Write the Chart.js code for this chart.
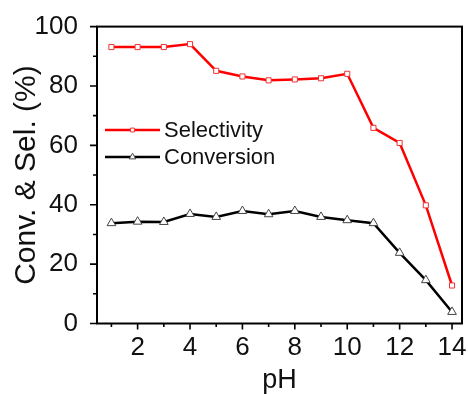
<!DOCTYPE html>
<html>
<head>
<meta charset="utf-8">
<script src="https://cdn.jsdelivr.net/npm/chart.js@4"></script>
<style>
html,body{margin:0;padding:0;background:#fff;}
#wrap{width:468px;height:394px;position:relative;}
</style>
</head>
<body>
<div id="wrap"><canvas id="c" width="468" height="394"></canvas></div>
<script>
const pH = [1, 2, 3, 4, 5, 6, 7, 8, 9, 10, 11, 12, 13, 14];
const selectivity = [93.1, 93.1, 93.1, 94.1, 85.1, 83.2, 81.9, 82.2, 82.6, 84.1, 65.9, 60.8, 39.8, 12.8];
const conversion = [33.8, 34.3, 34.2, 36.9, 35.9, 37.9, 36.8, 37.9, 35.9, 34.8, 33.8, 23.8, 14.6, 3.9];
const xMajorTicks = [2, 4, 6, 8, 10, 12, 14];
const xMinorTicks = [1, 3, 5, 7, 9, 11, 13];
const yMajorTicks = [0, 20, 40, 60, 80, 100];
const yMinorTicks = [10, 30, 50, 70, 90];
const seriesNames = ['Selectivity', 'Conversion'];

const FONT = "'Liberation Sans', Arial, sans-serif";

const framePlugin = {
  id: 'frame',
  afterDraw(chart) {
    const ctx = chart.ctx, a = chart.chartArea;
    const xs = chart.scales.x, ys = chart.scales.y;
    ctx.save();
    ctx.strokeStyle = '#000';
    ctx.lineWidth = 2;
    ctx.strokeRect(a.left, a.top, a.right - a.left, a.bottom - a.top);
    ctx.lineWidth = 1.6;
    ctx.beginPath();
    xMajorTicks.forEach(v => { const p = xs.getPixelForValue(v); ctx.moveTo(p, a.bottom); ctx.lineTo(p, a.bottom + 6); });
    xMinorTicks.forEach(v => { const p = xs.getPixelForValue(v); ctx.moveTo(p, a.bottom); ctx.lineTo(p, a.bottom + 3.5); });
    yMajorTicks.forEach(v => { const p = ys.getPixelForValue(v); ctx.moveTo(a.left, p); ctx.lineTo(a.left - 7, p); });
    yMinorTicks.forEach(v => { const p = ys.getPixelForValue(v); ctx.moveTo(a.left, p); ctx.lineTo(a.left - 4, p); });
    ctx.stroke();

    // legend
    chart.data.datasets.forEach((d, i) => {
      const y = 130 + i * 27;
      ctx.strokeStyle = d.borderColor;
      ctx.lineWidth = d.borderWidth;
      ctx.beginPath();
      ctx.moveTo(105, y);
      ctx.lineTo(160, y);
      ctx.stroke();
      ctx.save();
      ctx.fillStyle = '#fff';
      ctx.strokeStyle = d.pointBorderColor;
      ctx.lineWidth = d.pointBorderWidth;
      Chart.helpers.drawPoint(ctx, { pointStyle: d.pointStyle, radius: d.pointRadius * 0.75, borderWidth: d.pointBorderWidth, rotation: 0 }, 132.5, y);
      ctx.restore();
      ctx.fillStyle = '#111';
      ctx.font = '22px ' + FONT;
      ctx.textBaseline = 'middle';
      ctx.textAlign = 'left';
      ctx.fillText(d.label, 164, y + 1);
    });
    ctx.restore();
  }
};

new Chart(document.getElementById('c'), {
  type: 'line',
  data: {
    datasets: [
      {
        label: seriesNames[0],
        data: pH.map((x, i) => ({ x: x, y: selectivity[i] })),
        borderColor: '#ff0000',
        borderWidth: 2.5,
        pointStyle: 'rect',
        pointRadius: 3.6,
        pointBackgroundColor: '#ffffff',
        pointBorderColor: '#ee3333',
        pointBorderWidth: 1,
        tension: 0
      },
      {
        label: seriesNames[1],
        data: pH.map((x, i) => ({ x: x, y: conversion[i] })),
        borderColor: '#000000',
        borderWidth: 2.5,
        pointStyle: 'triangle',
        pointRadius: 5,
        pointBackgroundColor: '#ffffff',
        pointBorderColor: '#444444',
        pointBorderWidth: 1,
        tension: 0
      }
    ]
  },
  options: {
    responsive: false,
    animation: false,
    devicePixelRatio: 1,
    layout: { padding: { top: 25, right: 5, left: 0, bottom: 0 } },
    plugins: { legend: { display: false }, tooltip: { enabled: false } },
    scales: {
      x: {
        type: 'linear',
        min: 0.45,
        max: 14.38,
        afterBuildTicks: s => { s.ticks = xMajorTicks.map(v => ({ value: v })); },
        afterFit: s => { s.height = 70.5; },
        grid: { display: false },
        border: { display: false },
        ticks: { color: '#111', font: { family: FONT, size: 26 }, padding: 1, maxRotation: 0, autoSkip: false },
        title: { display: true, text: 'pH', color: '#111', font: { family: FONT, size: 27 }, padding: { top: 0, bottom: -3 } }
      },
      y: {
        type: 'linear',
        min: 0,
        max: 100,
        afterBuildTicks: s => { s.ticks = yMajorTicks.map(v => ({ value: v })); },
        afterFit: s => { s.width = 97; },
        grid: { display: false },
        border: { display: false },
        ticks: { color: '#111', font: { family: FONT, size: 26 }, padding: 11 },
        title: { display: true, text: 'Conv. & Sel. (%)', color: '#111', font: { family: FONT, size: 30 }, padding: { top: 9, bottom: 0 } }
      }
    }
  },
  plugins: [framePlugin]
});
</script>
</body>
</html>
